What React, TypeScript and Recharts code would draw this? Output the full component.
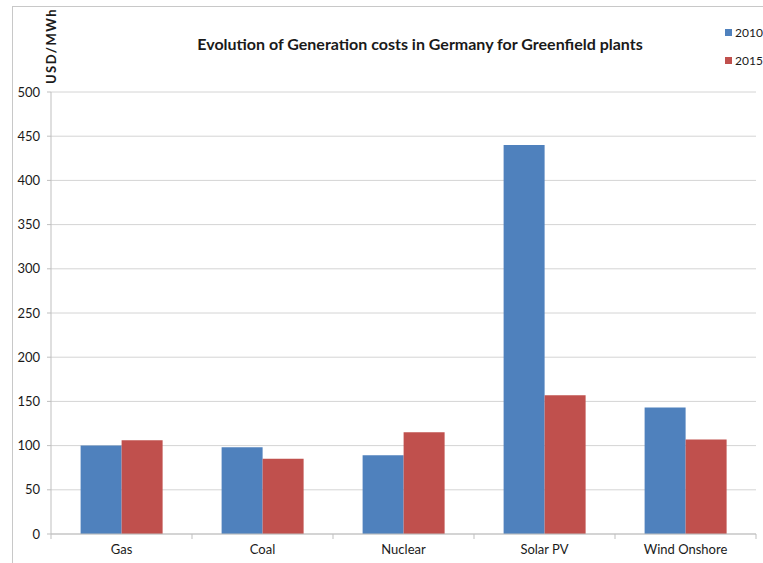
import React from 'react';
import { BarChart, Bar, XAxis, YAxis, CartesianGrid } from 'recharts';

const technologies = ['Gas', 'Coal', 'Nuclear', 'Solar PV', 'Wind Onshore'];
const costs2010 = [100, 98, 89, 440, 143];
const costs2015 = [106, 85, 115, 157, 107];
const costTicks = [0, 50, 100, 150, 200, 250, 300, 350, 400, 450, 500];

const seriesColors = { y2010: '#4F81BD', y2015: '#C0504D' };
const font = "Lato, 'Liberation Sans', sans-serif";
const axisGrey = '#BFBFBF';
const textColor = '#1a1a1a';

const data = technologies.map((name, i) => ({
  name,
  y2010: costs2010[i],
  y2015: costs2015[i],
}));

const X_TICK_SIZE = 5;
const X_TICK_MARGIN = 6;

// Category labels at band centres, tick marks on the band boundaries (Excel style)
function CategoryTick(props: any) {
  const { x, y, payload, index, visibleTicksCount } = props;
  const half = payload?.offset ?? 0;
  const top = y - X_TICK_SIZE - X_TICK_MARGIN;
  const isLast = index === visibleTicksCount - 1;
  return (
    <g>
      <line x1={x - half} x2={x - half} y1={top} y2={top + X_TICK_SIZE} stroke={axisGrey} />
      {isLast && (
        <line x1={x + half} x2={x + half} y1={top} y2={top + X_TICK_SIZE} stroke={axisGrey} />
      )}
      <text x={x} y={y} dy="0.71em" textAnchor="middle" fill={textColor} fontSize={13} fontFamily={font}>
        {payload.value}
      </text>
    </g>
  );
}

export default function App() {
  return (
    <div style={{ position: 'absolute', left: 0, top: 0, width: 763, height: 563, background: '#fff', fontFamily: font }}>
      {/* chart frame, cropped on the right and bottom */}
      <div style={{ position: 'absolute', left: 12, top: 6, right: 0, bottom: 0, borderLeft: '1px solid #C8C8C8', borderTop: '1px solid #C8C8C8' }} />

      <div style={{ position: 'absolute', left: 0, width: 840, top: 34, textAlign: 'center', fontSize: 16, fontWeight: 'bold', color: textColor }}>
        Evolution of Generation costs in Germany for Greenfield plants
      </div>

      <div
        style={{
          position: 'absolute',
          left: 51,
          top: 46,
          transform: 'translate(-50%, -50%) rotate(-90deg)',
          fontSize: 13,
          fontWeight: 'bold',
          letterSpacing: 1.5,
          color: textColor,
          whiteSpace: 'nowrap',
        }}
      >
        USD/MWh
      </div>

      <div style={{ position: 'absolute', left: 725, top: 24, fontSize: 12, color: textColor }}>
        {[
          { label: '2010', color: seriesColors.y2010 },
          { label: '2015', color: seriesColors.y2015 },
        ].map((item) => (
          <div key={item.label} style={{ display: 'flex', alignItems: 'center', height: 16, marginBottom: 12 }}>
            <span style={{ display: 'inline-block', width: 7, height: 7, background: item.color, marginRight: 3 }} />
            {item.label}
          </div>
        ))}
      </div>

      <div style={{ position: 'absolute', left: 0, top: 0 }}>
        <BarChart
          width={763}
          height={563}
          data={data}
          margin={{ top: 92, right: 7, bottom: 0, left: 0 }}
          barCategoryGap="21%"
          barGap={0}
        >
          <CartesianGrid vertical={false} stroke="#D4D4D4" />
          <XAxis
            dataKey="name"
            height={29}
            stroke={axisGrey}
            tickLine={false}
            tickSize={X_TICK_SIZE}
            tickMargin={X_TICK_MARGIN}
            tick={<CategoryTick />}
            interval={0}
          />
          <YAxis
            width={51}
            domain={[0, 500]}
            ticks={costTicks}
            stroke={axisGrey}
            tickSize={4}
            tickMargin={7}
            tick={{ fill: textColor, fontSize: 13, fontFamily: font }}
          />
          <Bar dataKey="y2010" name="2010" fill={seriesColors.y2010} isAnimationActive={false} />
          <Bar dataKey="y2015" name="2015" fill={seriesColors.y2015} isAnimationActive={false} />
        </BarChart>
      </div>
    </div>
  );
}
